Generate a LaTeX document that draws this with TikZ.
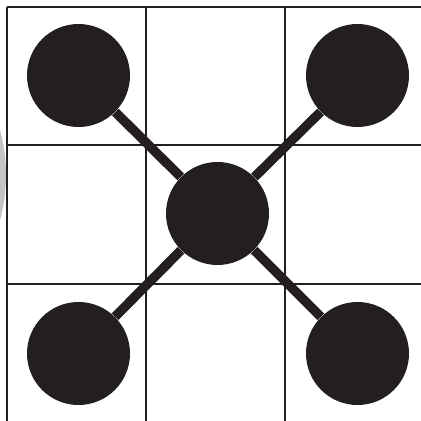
\documentclass[tikz,border=0pt]{standalone}
\usepackage{tikz}
\usetikzlibrary{positioning}
\definecolor{tinta}{HTML}{231F20}
\definecolor{sombra}{HTML}{C4C4C4}

\begin{document}
\begin{tikzpicture}[x=0.5pt,y=-0.5pt,
    dot/.style={circle,fill=tinta,inner sep=0pt,minimum size=51.5pt},
    link/.style={draw=tinta,line width=4.7pt},
    rejilla/.style={draw=tinta,line width=1.1pt}]
        \useasboundingbox (0,0) rectangle (421,421);
        % sombra gris a la izquierda
        \begin{scope}
          \clip (0,0) rectangle (421,421);
          \fill[sombra] (-166,175) circle[radius=86pt];
        \end{scope}
        % rejilla
        \foreach \y in {7,145,284}
          \draw[rejilla] (7,\y) -- (421,\y);
        \foreach \x in {7,146,285}
          \draw[rejilla] (\x,7) -- (\x,421);
        % bolas
        \node[dot] (centro) at (217.5,213.5) {};
        \node[dot] (arribaizq) at (78.5,75.5) {};
        \node[dot] (arribader) at (357.5,75.5) {};
        \node[dot] (abajoizq) at (78.5,353.5) {};
        \node[dot] (abajoder) at (357.5,353.5) {};
        % brazos
        \foreach \n in {arribaizq,arribader,abajoizq,abajoder}
          \draw[link] (centro) -- (\n);
      \end{tikzpicture}
\end{document}
